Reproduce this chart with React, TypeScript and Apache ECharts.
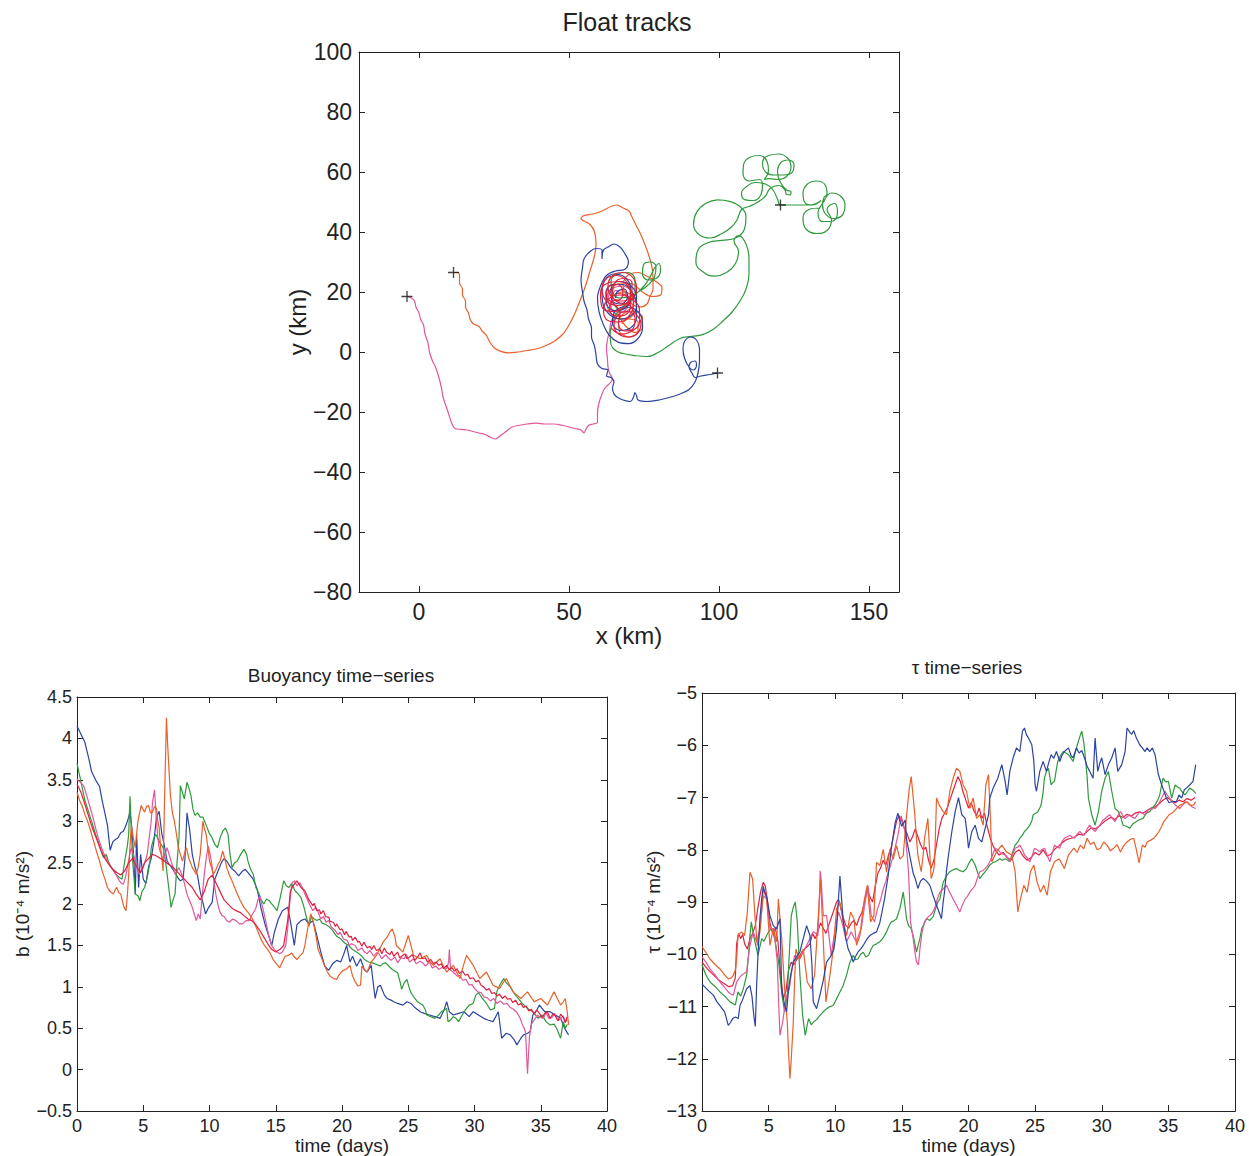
import React, { useEffect, useRef } from "react";
import * as echarts from "echarts";

const W = 1249;
const H = 1156;
const FONT = "'Liberation Sans', Arial, Helvetica, sans-serif";
const INK = "#222222";

const C_BLUE = "#2c44a0";
const C_GREEN = "#2f9a3c";
const C_ORANGE = "#e8602a";
const C_PINK = "#e0579a";
const C_RED = "#e0203f";

// ---------- Float tracks (x km, y km) ----------
const trackXTicks = [0, 50, 100, 150];
const trackStarts = [[-4, 18.5], [11.5, 26.5], [99.5, -7], [120.5, 49]];

const trackPink = [[-4,18.5],[-2.5,18],[-1.5,17],[-1,15],[0,13],[0.5,11],[1.5,9],[2,6],[3,3],[3.5,0],[4.5,-3],[5.5,-5],[6.5,-8],[7.5,-12],[8,-15],[9,-18],[10,-21],[11,-24],[12,-25.5],[14,-25.8],[16,-26],[18,-26.5],[20,-27],[22,-27.5],[24,-28.5],[25.5,-29],[27,-28],[29,-26.5],[31,-25],[33,-24.5],[36,-24],[39,-23.7],[42,-24],[45,-24],[48,-24.5],[50,-25],[52,-25.5],[54,-26],[55,-27],[55.5,-26],[56.5,-24.5],[58,-24],[59.5,-23.5],[59.5,-22],[59.5,-20],[60,-17],[61,-14],[62,-12],[63,-11],[64,-10],[64.5,-9],[63.5,-7],[63,-5],[62.8,-2],[62.5,1],[62.8,4],[63.5,7],[64,10],[66,13],[69,13.5],[71.5,16],[71,20],[68,22],[64.5,21],[63,17.5],[64.5,14],[68,13.5],[70,16.5],[69,20],[65.5,20.5],[64,17]];

const trackOrange = [[11.5,26.5],[13,26.5],[13.5,25],[13.5,23],[14.5,21],[14.5,19],[15.5,17],[15.5,15],[16.5,13],[17,11],[18,9.5],[20,8.5],[21,7],[22.5,5.5],[23.5,3.5],[25,1.5],[27,0.3],[30,-0.3],[33,0],[36,0.5],[39,1],[42,2],[45,3.5],[48,6],[50,9],[52,13],[54,18],[55.5,22],[57,27],[58.5,32],[59,36],[58.5,40],[57,42.5],[54,44.5],[55,45.5],[58,46],[61,47],[64,48.5],[66,49],[68,48],[70,47],[71,45],[72.5,42],[74,39],[76,34],[77.5,29],[78,25],[78,21],[77,18.5],[76,16],[73.5,15],[71,16],[69,19],[68,22.5],[69.5,25.5],[73,26.5],[76.5,25],[79,23.5],[81,21.5],[80.5,19],[77.5,18.5],[74.5,20],[71.5,22.5],[67.5,23],[64,21],[62.5,17.5],[63.5,13.5],[67,11],[70.5,11.5],[72.5,14.5],[71.5,18.5],[68,20],[64.5,18.5],[64,14.5],[66.5,12],[69,8.5],[72,6.5],[74.5,8],[74.5,11.5],[72,13.5],[68.5,13],[66.5,10],[67,6.5],[70,5],[73,6.5],[73,10],[70,11],[67.5,9.5]];

const trackBlue = [[99.5,-7],[97,-7.5],[94,-8],[92,-8.5],[91,-7],[90,-5],[90.5,-3.5],[92,-3],[92.5,-4.5],[91.5,-6],[90,-5],[88.5,-2],[88,1],[88.5,3.5],[90.5,5],[92.5,4],[93.5,1],[93.5,-3],[93,-7],[92,-10],[90,-12.5],[87,-14],[84,-15],[80,-16],[76,-16.5],[73,-16],[72.5,-14.5],[72,-13.5],[71.5,-15],[70.5,-16.5],[68,-16],[66,-15],[65,-14],[64.5,-12],[65,-10],[64,-8.5],[62.5,-8],[63,-6],[61,-5.5],[59.5,-4],[59,-1],[58.5,2],[57.5,5],[57.5,8],[56.5,11],[56,14],[55,17],[54.5,20],[54,24],[54.5,28],[55,31],[57,33.5],[59,34.5],[61,34],[61,31],[61.5,34],[63,35],[65,36],[67,35],[68.5,33],[69.8,30.1],[68.5,27.5],[65.5,27],[62.5,25.5],[60.5,22],[59.5,18],[60,13.5],[61.5,9],[63.5,5.5],[66.5,3.2],[70,2.8],[73,4.5],[74.5,8],[74,12],[71.5,14.5],[68,15],[65,13],[64.5,9.5],[67,7.2],[70.5,8],[72.5,11.5],[72.5,16],[71,20],[68,22.5],[64.5,22.5],[62.3,20],[62.5,16],[65,13.8],[68.5,14.5],[70.5,17.5],[70.5,21.5],[68.5,25],[65,26],[62,24],[61,20],[61.5,15.5],[63.5,12.5],[67,11],[70.5,12],[72.5,15],[72.5,19],[70,22.5],[66.5,23.5],[64,21],[64.5,17],[67.5,16],[69.5,18.5],[68.5,21],[66,20],[65.5,18]];

const trackGreen = [[133.5,48],[130,47.5],[128,44.5],[129,41],[132.5,39.5],[136,40.5],[137.5,44],[136,47.5],[138.5,49.5],[139.5,46.5],[137.5,43.5],[134.5,43.5],[133,46.5],[134.5,49.5],[137.5,53],[140.5,52],[142,49],[141,45.5],[138,44.5],[135.5,46],[134.5,49],[135,51.5],[136,52.5],[135.5,55.5],[132.5,57],[129.5,56],[128,53],[128.5,50],[131,49],[134,50.5],[130.5,49],[127,49],[123.5,49],[120.5,49],[119.5,51],[118,54],[115.5,56],[112,56.5],[109,55],[107.5,53],[108.5,50.8],[111.5,50.5],[114,52.5],[114.5,55.5],[113.5,57.5],[110,57],[108,59.5],[108.2,62.5],[110.5,65],[113.5,65.5],[116,63.5],[116.5,60.5],[115,57.5],[117,57.8],[119.5,57.5],[122.5,58.5],[124,61.5],[123,64.5],[120,66],[116.5,65.5],[114.5,63],[115.5,60],[118.5,59],[121.5,59],[124.5,60],[125,62.5],[123,64],[120.5,63],[119.5,60],[120.5,56.5],[122.5,54],[124,53.5],[123.8,52.4],[122.5,52.5],[122,54],[120,55.5],[117,54.5],[115.5,52],[113,50],[110,48.5],[107.5,47.5],[106,44],[104,41.5],[101,39.5],[97,38],[93.5,39],[91.5,42.5],[92.5,46.5],[95.5,49.5],[99.5,50.7],[103.5,50.2],[107,48.5],[109,45],[108.5,41],[105.5,38],[101,37.2],[96.5,36.5],[93,34],[92.3,30],[94.5,26.8],[98.5,25.3],[102.5,26.5],[105.5,29.5],[106.5,33.5],[105,37],[106.5,38.8],[109,36],[110,31],[110,26],[109,21],[107,17],[104.5,13.5],[101.5,10.5],[98,7.5],[94.5,5.8],[91,5.2],[87,4.5],[83,2],[80,0],[76,-1.5],[72,-1.2],[68,-0.5],[65.5,0.5],[64,2.5],[63.7,6],[64.5,9.5],[66,13],[69,16],[72,19],[75,22],[77,25],[78.5,28],[80,29.5],[80.5,27],[79,24.5],[76.5,24],[74.5,26],[74.8,29],[77,30],[79,28.5],[78.5,25],[76,22],[73,20],[70,18.5],[67,18],[64.5,20],[64,23.5],[66,26],[69.5,26.5],[72,24],[72,20],[70,16],[67,14],[65,16]];

const trackRed = [[64,8],[67.5,6],[71,7],[73.5,10],[73.5,14],[71,17.5],[67,19],[63,17.5],[61.5,14],[63,10.5],[66.5,10],[70,12],[71.5,16],[70.5,20.5],[67,23.5],[63,23],[60.5,19.5],[61,15],[64.5,13.5],[68.5,15],[70.5,18.5],[69.5,23],[66,25.5],[62.5,24.5],[61,21],[62.5,17],[66.5,15.5],[70,17],[72.5,20.5],[71.5,24.5],[68,26.5],[64.5,25.5],[63,22],[64.5,18],[68,17],[71,19.5],[71,23],[68,24.5],[65,22.5],[64.5,19],[66.5,16.5],[69.5,16],[72,13],[74,9.5],[73,6.5],[70,5],[66.5,6],[65,9],[66.5,12.5],[69.5,13.5],[72,11.5],[71.5,8],[68.5,7],[66.5,9.5],[67,13],[65,16],[62.5,18.5],[63,21.5],[66,22.5],[68,20],[67,17.5],[64.5,17],[63.5,14],[66,12],[69,12.5],[70.5,15.5],[69,19],[66,19.5]];

// ---------- Buoyancy time-series (days, 1e-4 m/s^2) ----------
const bBlue = [[0,4.15],[0.3,4.05],[0.6,3.95],[0.9,3.75],[1.1,3.6],[1.4,3.5],[1.7,3.42],[1.9,3.25],[2.1,3.1],[2.3,2.95],[2.5,2.65],[2.7,2.75],[2.9,2.78],[3.1,2.8],[3.3,2.86],[3.5,2.88],[3.7,2.95],[3.9,3.05],[4.0,3.12],[4.15,2.9],[4.3,2.5],[4.4,2.12],[4.5,2.85],[4.65,2.2],[4.8,2.6],[5.0,2.3],[5.2,2.25],[5.4,2.45],[5.6,2.55],[5.8,2.75],[6.0,3.05],[6.2,3.12],[6.4,2.85],[6.6,2.7],[6.8,2.52],[7.1,2.45],[7.4,2.38],[7.6,2.32],[7.8,2.28],[8.0,2.3],[8.15,2.55],[8.3,3.1],[8.5,2.9],[8.7,2.6],[8.9,2.45],[9.1,2.34],[9.3,2.15],[9.5,2.02],[9.7,1.88],[9.9,1.95],[10.2,2.02],[10.4,2.3],[10.6,2.38],[10.9,2.5],[11.1,2.55],[11.3,2.52],[11.6,2.44],[11.9,2.4],[12.2,2.34],[12.5,2.4],[12.7,2.42],[13.0,2.36],[13.3,2.3],[13.6,2.18],[13.9,1.94],[14.2,1.75],[14.5,1.6],[14.7,1.5],[14.9,1.66],[15.2,1.82],[15.5,1.92],[15.9,1.96],[16.1,1.8],[16.3,1.6],[16.4,1.5],[16.6,1.75],[16.9,1.8],[17.2,1.82],[17.5,1.76],[17.8,1.8],[18.1,1.62],[18.4,1.42],[18.7,1.25],[19.0,1.2],[19.3,1.28],[19.6,1.32],[19.9,1.3],[20.1,1.38],[20.35,1.5],[20.6,1.3],[20.8,1.37],[21.1,1.25],[21.4,1.34],[21.7,1.2],[21.9,1.18],[22.2,1.26],[22.5,0.86],[22.7,1.0],[22.9,1.02],[23.2,0.9],[23.4,0.86],[23.7,0.84],[23.9,0.82],[24.2,0.8],[24.6,0.78],[24.9,0.82],[25.2,0.8],[25.5,0.75],[25.9,0.7],[26.2,0.68],[26.6,0.66],[27.0,0.64],[27.4,0.62],[27.7,0.72],[27.9,0.82],[28.1,0.7],[28.4,0.66],[28.8,0.68],[29.2,0.7],[29.6,0.64],[29.9,0.7],[30.3,0.66],[30.7,0.62],[31.0,0.6],[31.4,0.58],[31.8,0.7],[32.05,0.38],[32.4,0.44],[32.7,0.42],[33.0,0.36],[33.2,0.3],[33.5,0.38],[33.7,0.42],[34.0,0.44],[34.2,0.46],[34.4,0.66],[34.7,0.72],[34.9,0.78],[35.3,0.7],[35.7,0.7],[36.1,0.66],[36.5,0.62],[36.8,0.5],[37.1,0.42]];

const bGreen = [[0,3.7],[0.2,3.55],[0.4,3.4],[0.6,3.25],[0.8,3.15],[1.0,3.05],[1.2,2.95],[1.4,2.84],[1.6,2.75],[1.8,2.65],[2.0,2.56],[2.2,2.6],[2.4,2.5],[2.6,2.44],[2.8,2.4],[3.0,2.35],[3.2,2.32],[3.4,2.3],[3.6,2.52],[3.8,2.7],[3.9,2.84],[4.0,3.3],[4.1,2.9],[4.2,2.52],[4.4,2.12],[4.6,2.1],[4.75,2.04],[4.9,2.15],[5.1,2.2],[5.3,2.32],[5.5,2.5],[5.6,2.68],[5.8,2.8],[5.95,2.84],[6.2,2.76],[6.5,2.68],[6.7,2.5],[6.8,2.36],[7.0,2.1],[7.1,1.96],[7.25,2.05],[7.4,2.12],[7.55,2.5],[7.7,2.8],[7.8,3.43],[7.95,3.35],[8.1,3.27],[8.3,3.47],[8.45,3.4],[8.6,3.31],[8.75,3.15],[8.9,3.07],[9.1,3.1],[9.3,3.05],[9.5,3.05],[9.75,2.95],[10.0,2.85],[10.2,2.8],[10.4,2.72],[10.6,2.68],[10.8,2.8],[11.0,2.88],[11.2,2.92],[11.4,2.84],[11.55,2.6],[11.7,2.44],[11.9,2.5],[12.1,2.52],[12.35,2.6],[12.6,2.66],[12.8,2.6],[12.9,2.52],[13.1,2.42],[13.3,2.36],[13.5,2.2],[13.7,2.14],[13.9,2.05],[14.1,2.0],[14.3,2.06],[14.5,2.04],[14.8,1.98],[15.1,1.92],[15.3,2.05],[15.6,2.28],[15.8,2.22],[16.0,2.2],[16.2,2.25],[16.45,2.16],[16.7,2.12],[16.9,2.08],[17.1,1.98],[17.3,1.85],[17.5,1.73],[17.7,1.85],[17.9,1.82],[18.1,1.8],[18.3,1.82],[18.5,1.77],[18.8,1.75],[19.0,1.73],[19.3,1.68],[19.6,1.61],[19.9,1.58],[20.2,1.53],[20.5,1.5],[20.8,1.45],[21.0,1.43],[21.2,1.41],[21.5,1.37],[21.7,1.33],[22.0,1.3],[22.3,1.29],[22.6,1.27],[22.9,1.25],[23.1,1.28],[23.3,1.29],[23.6,1.24],[23.8,1.21],[24.0,1.19],[24.2,1.17],[24.4,1.05],[24.5,0.97],[24.7,1.05],[24.9,1.09],[25.05,1.0],[25.2,0.93],[25.5,0.86],[25.7,0.82],[25.9,0.8],[26.1,0.78],[26.3,0.72],[26.4,0.66],[26.7,0.64],[27.0,0.62],[27.3,0.66],[27.5,0.7],[27.7,0.72],[27.9,0.74],[28.0,0.58],[28.2,0.6],[28.4,0.64],[28.6,0.62],[28.8,0.58],[29.0,0.64],[29.3,0.72],[29.6,0.78],[29.9,0.8],[30.1,0.9],[30.3,0.93],[30.6,0.86],[30.9,0.8],[31.2,0.72],[31.5,0.74],[31.7,0.95],[31.9,1.02],[32.2,1.1],[32.4,1.05],[32.7,1.0],[33.0,0.92],[33.3,0.86],[33.6,0.8],[34.0,0.74],[34.4,0.7],[34.8,0.62],[35.1,0.66],[35.4,0.58],[35.7,0.54],[36.0,0.55],[36.2,0.5],[36.4,0.42],[36.5,0.38],[36.7,0.58],[36.85,0.5],[37.0,0.55]];

const bOrange = [[0,3.35],[0.2,3.25],[0.4,3.18],[0.6,3.08],[0.8,3.0],[1.0,2.9],[1.25,2.76],[1.5,2.62],[1.7,2.52],[1.9,2.4],[2.15,2.28],[2.3,2.2],[2.45,2.16],[2.6,2.14],[2.75,2.12],[2.9,2.18],[3.0,2.2],[3.15,2.14],[3.3,2.12],[3.45,2.02],[3.55,1.96],[3.7,1.92],[3.8,2.1],[3.9,2.36],[4.0,2.7],[4.1,2.95],[4.25,2.8],[4.4,2.68],[4.5,2.85],[4.6,3.0],[4.75,3.12],[4.85,3.19],[5.0,3.14],[5.1,3.11],[5.25,3.18],[5.4,3.19],[5.55,3.1],[5.7,3.11],[5.85,3.18],[6.0,3.15],[6.1,3.0],[6.2,2.92],[6.3,2.7],[6.4,2.56],[6.5,2.4],[6.6,3.2],[6.7,3.9],[6.75,4.25],[6.85,3.9],[6.95,3.6],[7.05,3.31],[7.2,3.1],[7.35,3.0],[7.5,2.85],[7.65,2.68],[7.8,2.6],[7.95,2.52],[8.1,2.6],[8.25,2.68],[8.45,2.55],[8.7,2.44],[8.85,2.4],[9.0,2.36],[9.15,2.45],[9.3,2.6],[9.4,2.8],[9.5,3.0],[9.6,2.92],[9.75,2.84],[9.9,2.65],[10.0,2.52],[10.15,2.44],[10.3,2.36],[10.5,2.42],[10.65,2.48],[10.8,2.52],[10.9,2.58],[11.0,2.64],[11.15,2.55],[11.3,2.44],[11.5,2.35],[11.7,2.28],[11.9,2.2],[12.1,2.12],[12.3,2.05],[12.6,1.96],[12.8,1.92],[13.0,1.88],[13.25,1.82],[13.5,1.73],[13.7,1.65],[13.9,1.57],[14.15,1.5],[14.4,1.45],[14.6,1.4],[14.8,1.33],[15.05,1.28],[15.3,1.23],[15.5,1.3],[15.7,1.37],[15.95,1.38],[16.2,1.41],[16.4,1.36],[16.6,1.33],[16.85,1.38],[17.05,1.41],[17.2,1.5],[17.35,1.65],[17.5,1.78],[17.65,1.88],[17.8,1.8],[17.9,1.73],[18.05,1.6],[18.2,1.45],[18.45,1.35],[18.7,1.25],[18.9,1.18],[19.1,1.13],[19.35,1.1],[19.6,1.09],[19.75,1.14],[19.9,1.17],[20.1,1.2],[20.3,1.21],[20.6,1.26],[20.8,1.13],[21.0,1.06],[21.2,1.01],[21.4,1.02],[21.5,1.25],[21.75,1.2],[21.9,1.18],[22.2,1.3],[22.6,1.38],[22.85,1.46],[23.1,1.54],[23.4,1.6],[23.6,1.66],[23.8,1.7],[24.0,1.6],[24.1,1.5],[24.35,1.46],[24.6,1.42],[24.8,1.52],[25.0,1.62],[25.2,1.5],[25.4,1.38],[25.65,1.36],[25.9,1.34],[26.15,1.36],[26.4,1.38],[26.65,1.3],[26.9,1.26],[27.15,1.3],[27.4,1.34],[27.65,1.25],[27.9,1.18],[28.15,1.22],[28.4,1.26],[28.65,1.18],[28.9,1.1],[29.15,1.25],[29.4,1.38],[29.65,1.32],[29.9,1.26],[30.15,1.18],[30.4,1.1],[30.65,1.14],[30.9,1.18],[31.15,1.1],[31.4,1.02],[31.65,1.0],[31.9,0.98],[32.15,1.05],[32.4,1.1],[32.65,1.02],[32.9,0.94],[33.2,0.9],[33.5,0.86],[33.75,0.9],[34.0,0.94],[34.25,0.88],[34.5,0.82],[34.75,0.84],[35.0,0.86],[35.25,0.82],[35.5,0.78],[35.75,0.86],[36.0,0.94],[36.25,0.86],[36.5,0.78],[36.7,0.82],[36.85,0.86],[37.0,0.7],[37.1,0.54]];

const bPink = [[0,3.51],[0.25,3.47],[0.5,3.43],[0.75,3.3],[0.95,3.19],[1.2,3.05],[1.4,2.92],[1.6,2.8],[1.85,2.68],[2.05,2.6],[2.3,2.52],[2.55,2.45],[2.75,2.4],[3.0,2.34],[3.2,2.28],[3.35,2.25],[3.5,2.24],[3.65,2.32],[3.8,2.44],[3.95,2.58],[4.1,2.68],[4.25,2.6],[4.4,2.52],[4.55,2.42],[4.7,2.36],[4.85,2.4],[5.0,2.44],[5.15,2.52],[5.3,2.6],[5.45,2.8],[5.6,3.0],[5.7,3.23],[5.85,3.38],[6.0,3.0],[6.1,2.8],[6.2,2.68],[6.35,2.6],[6.5,2.52],[6.65,2.6],[6.8,2.68],[6.95,2.6],[7.1,2.52],[7.25,2.44],[7.4,2.36],[7.55,2.4],[7.7,2.44],[7.85,2.38],[8.0,2.32],[8.15,2.22],[8.3,2.12],[8.5,2.04],[8.7,1.96],[8.85,1.88],[9.0,1.8],[9.15,1.88],[9.3,1.82],[9.45,2.1],[9.6,2.35],[9.75,2.55],[9.9,2.7],[10.05,2.6],[10.2,2.45],[10.35,2.25],[10.5,2.1],[10.65,1.98],[10.8,1.9],[10.95,1.86],[11.1,1.85],[11.3,1.8],[11.5,1.78],[11.75,1.82],[12.0,1.8],[12.25,1.76],[12.5,1.76],[12.75,1.8],[13.0,1.8],[13.25,1.88],[13.5,1.95],[13.65,2.05],[13.8,2.1],[13.95,2.0],[14.1,1.9],[14.3,1.75],[14.5,1.6],[14.7,1.5],[14.9,1.45],[15.1,1.42],[15.3,1.4],[15.5,1.42],[15.75,1.5],[15.9,1.7],[16.05,2.0],[16.2,2.25],[16.4,2.28],[16.6,2.22],[16.8,2.26],[17.0,2.2],[17.2,2.12],[17.4,2.05],[17.6,1.98],[17.8,1.92],[18.0,1.96],[18.2,1.9],[18.4,1.82],[18.6,1.85],[18.8,1.78],[19.0,1.8],[19.2,1.72],[19.5,1.68],[19.7,1.63],[19.85,1.66],[20.1,1.58],[20.4,1.56],[20.55,1.5],[20.7,1.52],[21.0,1.5],[21.2,1.44],[21.5,1.47],[21.7,1.42],[21.9,1.4],[22.1,1.44],[22.4,1.37],[22.6,1.41],[22.8,1.4],[23.0,1.34],[23.3,1.39],[23.5,1.35],[23.7,1.32],[24.0,1.36],[24.2,1.29],[24.45,1.35],[24.7,1.34],[24.85,1.39],[25.1,1.3],[25.4,1.34],[25.6,1.28],[25.9,1.31],[26.1,1.29],[26.3,1.25],[26.6,1.3],[26.8,1.23],[27.1,1.25],[27.3,1.21],[27.6,1.24],[27.9,1.22],[28.05,1.3],[28.1,1.45],[28.2,1.2],[28.45,1.17],[28.7,1.13],[28.9,1.14],[29.1,1.08],[29.35,1.09],[29.6,1.02],[29.8,1.03],[30.0,0.98],[30.25,0.94],[30.5,0.93],[30.7,0.88],[30.95,0.87],[31.2,0.83],[31.45,0.86],[31.7,0.8],[31.95,0.83],[32.2,0.79],[32.45,0.8],[32.7,0.75],[32.95,0.73],[33.2,0.69],[33.45,0.62],[33.6,0.55],[33.75,0.5],[33.85,0.45],[34.0,-0.05],[34.15,0.4],[34.3,0.55],[34.5,0.6],[34.75,0.66],[34.95,0.63],[35.2,0.62],[35.4,0.69],[35.6,0.62],[35.85,0.63],[36.05,0.68],[36.3,0.59],[36.5,0.62],[36.7,0.65],[36.85,0.57],[37.0,0.6]];

const bRed = [[0,3.45],[0.3,3.35],[0.6,3.2],[0.9,3.05],[1.2,2.9],[1.5,2.78],[1.8,2.65],[2.1,2.55],[2.4,2.48],[2.7,2.42],[3.0,2.38],[3.3,2.35],[3.6,2.4],[3.9,2.5],[4.2,2.55],[4.5,2.45],[4.8,2.38],[5.1,2.5],[5.4,2.55],[5.7,2.6],[6.0,2.58],[6.3,2.55],[6.6,2.52],[6.9,2.48],[7.2,2.45],[7.5,2.4],[7.8,2.35],[8.1,2.3],[8.4,2.25],[8.7,2.2],[9.0,2.12],[9.3,2.05],[9.6,2.15],[9.9,2.3],[10.2,2.35],[10.5,2.25],[10.8,2.15],[11.1,2.05],[11.4,2.0],[11.7,1.95],[12.0,1.92],[12.3,1.9],[12.6,1.86],[12.9,1.82],[13.2,1.8],[13.5,1.75],[13.8,1.68],[14.1,1.6],[14.4,1.52],[14.7,1.45],[15.0,1.42],[15.3,1.45],[15.6,1.5],[15.9,1.8],[16.1,2.15],[16.3,2.22],[16.6,2.28],[16.9,2.2],[17.2,2.16],[17.5,2.05],[17.8,1.98],[17.9,2.01],[18.1,1.92],[18.3,1.93],[18.4,1.88],[18.6,1.92],[18.75,1.85],[19.0,1.84],[19.1,1.79],[19.35,1.78],[19.5,1.73],[19.6,1.76],[19.85,1.69],[20.0,1.7],[20.2,1.63],[20.3,1.67],[20.55,1.6],[20.7,1.61],[20.8,1.56],[21.0,1.6],[21.2,1.54],[21.3,1.55],[21.5,1.49],[21.65,1.54],[21.9,1.47],[22.1,1.49],[22.25,1.45],[22.4,1.5],[22.6,1.44],[22.85,1.46],[23.0,1.4],[23.2,1.47],[23.35,1.42],[23.6,1.39],[23.75,1.43],[23.9,1.37],[24.2,1.42],[24.35,1.35],[24.5,1.37],[24.75,1.4],[24.9,1.34],[25.1,1.36],[25.3,1.39],[25.5,1.32],[25.7,1.36],[25.9,1.41],[26.05,1.34],[26.3,1.35],[26.45,1.3],[26.7,1.33],[26.9,1.28],[27.1,1.3],[27.3,1.26],[27.5,1.28],[27.65,1.22],[27.9,1.26],[28.1,1.21],[28.3,1.23],[28.5,1.19],[28.7,1.22],[28.85,1.16],[29.1,1.19],[29.3,1.14],[29.5,1.15],[29.65,1.1],[29.9,1.11],[30.1,1.06],[30.3,1.08],[30.5,1.02],[30.7,1.0],[30.9,0.96],[31.1,0.98],[31.3,0.92],[31.5,0.93],[31.7,0.89],[31.9,0.91],[32.1,0.86],[32.3,0.89],[32.5,0.85],[32.7,0.86],[32.9,0.81],[33.1,0.84],[33.3,0.78],[33.5,0.8],[33.7,0.75],[33.9,0.77],[34.1,0.71],[34.3,0.73],[34.5,0.67],[34.7,0.72],[34.9,0.68],[35.1,0.63],[35.3,0.68],[35.5,0.7],[35.7,0.62],[35.9,0.67],[36.1,0.65],[36.3,0.59],[36.5,0.67],[36.7,0.63],[36.85,0.57],[37.0,0.64]];

// ---------- tau time-series (days, 1e-4 m/s^2) ----------
const tBlue = [[0,-10.57],[0.5,-10.7],[0.85,-10.78],[1.1,-10.9],[1.4,-11.0],[1.7,-11.1],[1.97,-11.36],[2.15,-11.3],[2.3,-11.23],[2.5,-11.2],[2.72,-11.23],[2.85,-10.98],[3.0,-10.9],[3.2,-10.76],[3.35,-10.66],[3.6,-10.6],[3.75,-10.8],[3.9,-11.2],[4.0,-11.38],[4.1,-10.6],[4.2,-10.02],[4.35,-9.3],[4.48,-8.94],[4.6,-8.7],[4.7,-8.8],[4.85,-8.9],[5.1,-9.26],[5.35,-9.45],[5.6,-9.51],[5.85,-9.32],[5.98,-10.66],[6.2,-10.97],[6.35,-11.1],[6.5,-10.66],[6.65,-10.4],[6.85,-10.15],[7.1,-10.05],[7.35,-9.95],[7.6,-9.7],[7.85,-9.45],[8.1,-9.64],[8.25,-10.2],[8.35,-10.91],[8.6,-11.04],[8.85,-10.78],[9.1,-10.5],[9.35,-10.15],[9.7,-10.02],[9.9,-9.9],[10.1,-9.51],[10.35,-8.5],[10.6,-9.38],[10.8,-9.7],[10.97,-9.9],[11.15,-10.0],[11.35,-10.15],[11.5,-10.05],[11.7,-9.96],[11.9,-9.9],[12.1,-9.83],[12.35,-9.72],[12.6,-9.64],[12.85,-9.6],[13.1,-9.57],[13.35,-9.39],[13.5,-9.2],[13.7,-8.94],[13.97,-8.5],[14.2,-7.99],[14.5,-7.48],[14.7,-7.3],[14.85,-7.45],[15.0,-7.55],[15.25,-7.43],[15.35,-7.8],[15.6,-8.12],[15.85,-8.45],[16.0,-8.55],[16.2,-8.74],[16.4,-8.6],[16.6,-8.55],[16.85,-8.6],[17.1,-8.68],[17.35,-8.88],[17.6,-9.06],[17.8,-9.2],[17.97,-9.32],[18.1,-9.0],[18.2,-8.81],[18.35,-8.4],[18.5,-8.1],[18.75,-7.65],[19.0,-7.27],[19.25,-7.0],[19.5,-7.33],[19.75,-7.4],[19.9,-7.7],[20.0,-7.97],[20.25,-7.65],[20.5,-7.53],[20.75,-7.78],[21.0,-7.85],[21.25,-7.59],[21.5,-7.33],[21.6,-7.01],[21.85,-6.82],[22.2,-6.63],[22.5,-6.37],[22.75,-6.69],[22.9,-6.95],[23.1,-6.5],[23.35,-6.24],[23.6,-6.05],[23.85,-6.12],[24.05,-5.73],[24.2,-5.67],[24.35,-5.8],[24.5,-5.86],[24.75,-5.99],[24.9,-6.3],[25.0,-6.76],[25.1,-6.88],[25.35,-6.5],[25.6,-6.31],[25.85,-6.5],[26.0,-6.35],[26.2,-6.18],[26.4,-6.25],[26.6,-6.12],[26.85,-6.31],[27.0,-6.2],[27.2,-6.12],[27.5,-6.05],[27.7,-6.2],[27.85,-6.24],[28.1,-6.05],[28.3,-6.15],[28.5,-6.1],[28.7,-6.24],[28.9,-6.4],[29.1,-6.5],[29.35,-6.63],[29.5,-5.86],[29.7,-6.5],[29.85,-6.35],[30.0,-6.24],[30.25,-6.56],[30.5,-6.37],[30.75,-6.24],[31.0,-6.05],[31.2,-6.5],[31.5,-6.37],[31.75,-6.12],[31.9,-5.67],[32.1,-5.75],[32.25,-5.79],[32.4,-5.72],[32.6,-5.86],[32.85,-5.99],[33.05,-6.05],[33.25,-6.12],[33.4,-6.05],[33.6,-6.12],[33.8,-6.05],[34.0,-6.18],[34.25,-6.56],[34.5,-6.76],[34.7,-6.9],[34.85,-7.01],[35.05,-7.1],[35.25,-7.08],[35.6,-7.08],[35.8,-6.95],[36.0,-7.01],[36.2,-6.85],[36.35,-6.82],[36.6,-6.76],[36.85,-6.69],[37.05,-6.37]];

const tGreen = [[0,-10.2],[0.3,-10.4],[0.6,-10.53],[1.0,-10.62],[1.35,-10.72],[1.7,-10.8],[2.1,-10.91],[2.5,-10.97],[2.7,-10.72],[2.9,-10.8],[3.1,-10.66],[3.35,-10.4],[3.5,-10.0],[3.6,-9.64],[3.7,-9.38],[3.85,-9.6],[3.97,-9.76],[4.2,-10.02],[4.35,-9.85],[4.48,-9.7],[4.65,-9.75],[4.85,-9.64],[5.05,-9.55],[5.2,-9.51],[5.35,-9.6],[5.5,-9.76],[5.75,-10.15],[6.0,-10.78],[6.2,-11.1],[6.4,-10.78],[6.55,-10.0],[6.7,-9.26],[6.85,-9.1],[7.0,-9.0],[7.15,-9.38],[7.35,-10.4],[7.55,-11.17],[7.75,-11.55],[7.9,-11.35],[8.0,-11.23],[8.2,-11.35],[8.35,-11.3],[8.6,-11.25],[8.85,-11.17],[9.1,-11.1],[9.35,-11.04],[9.6,-11.0],[9.85,-10.98],[10.1,-10.85],[10.35,-10.72],[10.6,-10.59],[10.85,-10.4],[11.1,-10.15],[11.35,-10.02],[11.5,-10.1],[11.7,-10.09],[11.9,-10.0],[12.1,-9.96],[12.3,-10.05],[12.5,-10.02],[12.7,-9.9],[12.85,-9.83],[13.1,-9.8],[13.35,-9.76],[13.6,-9.68],[13.85,-9.57],[14.05,-9.45],[14.2,-9.38],[14.4,-9.36],[14.6,-9.32],[14.75,-9.2],[14.85,-9.13],[15.1,-8.81],[15.25,-9.1],[15.35,-9.32],[15.5,-9.45],[15.7,-9.51],[15.9,-9.7],[16.1,-9.96],[16.2,-9.85],[16.35,-9.7],[16.5,-9.5],[16.7,-9.4],[16.85,-9.32],[17.1,-9.35],[17.35,-9.28],[17.5,-9.15],[17.7,-9.0],[17.85,-8.94],[18.1,-8.62],[18.35,-8.5],[18.6,-8.42],[18.85,-8.38],[19.1,-8.36],[19.35,-8.4],[19.6,-8.42],[19.85,-8.36],[20.05,-8.25],[20.25,-8.17],[20.5,-8.29],[20.7,-8.45],[20.85,-8.55],[21.05,-8.48],[21.25,-8.42],[21.45,-8.35],[21.6,-8.29],[21.8,-8.25],[22.0,-8.23],[22.2,-8.2],[22.35,-8.17],[22.55,-8.2],[22.75,-8.17],[22.95,-8.2],[23.1,-8.23],[23.3,-8.05],[23.5,-7.91],[23.7,-7.85],[23.85,-7.78],[24.05,-7.72],[24.2,-7.65],[24.4,-7.6],[24.6,-7.53],[24.75,-7.45],[24.85,-7.33],[25.05,-7.3],[25.2,-7.27],[25.35,-7.2],[25.45,-7.14],[25.6,-6.9],[25.7,-6.63],[25.85,-6.5],[26.0,-6.44],[26.1,-6.6],[26.2,-6.76],[26.3,-6.72],[26.45,-6.69],[26.6,-6.45],[26.7,-6.31],[26.9,-6.2],[27.1,-6.12],[27.3,-6.15],[27.5,-6.18],[27.7,-6.25],[27.85,-6.31],[28.05,-6.1],[28.25,-5.92],[28.4,-5.8],[28.5,-5.73],[28.65,-5.95],[28.75,-6.18],[28.9,-6.6],[29.0,-7.01],[29.25,-7.33],[29.5,-7.53],[29.75,-7.27],[30.0,-6.88],[30.25,-6.63],[30.5,-6.5],[30.75,-6.88],[31.0,-7.21],[31.25,-7.27],[31.45,-7.4],[31.6,-7.53],[31.85,-7.55],[32.1,-7.59],[32.35,-7.5],[32.6,-7.46],[32.85,-7.42],[33.1,-7.4],[33.35,-7.3],[33.6,-7.27],[33.8,-7.2],[34.0,-7.14],[34.2,-7.05],[34.35,-6.95],[34.5,-6.75],[34.6,-6.63],[34.8,-6.7],[35.0,-6.69],[35.25,-7.01],[35.5,-6.76],[35.7,-6.8],[35.85,-6.82],[36.05,-6.9],[36.25,-6.95],[36.45,-6.88],[36.6,-6.82],[36.85,-6.86],[37.05,-6.92]];

const tOrange = [[0,-9.85],[0.3,-9.97],[0.6,-10.09],[1.0,-10.2],[1.35,-10.28],[1.65,-10.38],[1.97,-10.47],[2.2,-10.45],[2.35,-10.4],[2.5,-10.3],[2.6,-10.09],[2.7,-9.64],[2.85,-9.6],[2.97,-9.57],[3.2,-9.64],[3.4,-9.2],[3.6,-8.43],[3.8,-8.56],[3.97,-9.26],[4.15,-9.83],[4.35,-9.57],[4.6,-8.75],[4.85,-8.94],[5.1,-9.83],[5.35,-9.51],[5.6,-9.76],[5.73,-8.94],[5.98,-9.7],[6.2,-10.66],[6.4,-11.3],[6.5,-11.9],[6.6,-12.38],[6.7,-12.0],[6.85,-11.3],[6.95,-10.5],[7.05,-9.9],[7.3,-10.09],[7.6,-9.9],[7.9,-10.53],[8.2,-10.66],[8.45,-10.4],[8.7,-9.38],[8.9,-8.56],[9.15,-10.02],[9.3,-10.91],[9.6,-10.4],[9.85,-9.9],[10.1,-9.13],[10.35,-9.0],[10.6,-9.38],[10.85,-9.64],[11.15,-9.19],[11.4,-9.32],[11.6,-9.83],[11.85,-9.64],[12.15,-9.0],[12.4,-8.68],[12.65,-9.38],[12.9,-9.26],[13.1,-8.24],[13.35,-8.3],[13.6,-7.99],[13.85,-8.43],[14.1,-7.99],[14.35,-8.18],[14.6,-7.92],[14.85,-8.18],[15.1,-8.11],[15.35,-7.35],[15.55,-6.84],[15.7,-6.6],[15.85,-7.0],[15.97,-7.33],[16.1,-7.8],[16.2,-8.1],[16.35,-8.3],[16.45,-8.42],[16.6,-8.1],[16.7,-7.78],[16.85,-7.55],[16.95,-7.4],[17.1,-8.1],[17.2,-8.55],[17.35,-8.43],[17.45,-8.29],[17.6,-7.01],[17.8,-7.14],[18.1,-7.27],[18.35,-7.33],[18.6,-6.88],[18.85,-6.63],[19.1,-6.44],[19.35,-6.5],[19.6,-6.76],[19.85,-6.88],[20.1,-7.21],[20.35,-7.01],[20.6,-7.4],[20.85,-7.33],[21.1,-7.53],[21.3,-6.76],[21.5,-6.56],[21.65,-7.4],[21.75,-8.23],[22.1,-8.04],[22.5,-7.91],[22.85,-8.04],[23.25,-8.1],[23.5,-8.42],[23.7,-9.19],[23.9,-8.94],[24.15,-8.68],[24.4,-8.81],[24.65,-8.42],[24.9,-8.29],[25.15,-8.62],[25.4,-8.81],[25.65,-8.68],[25.9,-8.87],[26.15,-8.42],[26.45,-8.23],[26.8,-8.17],[27.2,-8.36],[27.5,-8.1],[27.9,-7.97],[28.15,-8.05],[28.4,-7.91],[28.65,-7.98],[28.9,-7.78],[29.15,-7.9],[29.4,-7.85],[29.65,-8.0],[29.9,-7.97],[30.15,-7.85],[30.4,-7.91],[30.65,-8.02],[30.9,-7.97],[31.15,-7.9],[31.4,-8.04],[31.65,-7.92],[31.9,-7.85],[32.15,-7.8],[32.4,-7.78],[32.6,-8.0],[32.8,-8.25],[33.05,-7.91],[33.25,-7.95],[33.4,-7.85],[33.65,-7.82],[33.9,-7.78],[34.1,-7.72],[34.3,-7.65],[34.5,-7.55],[34.65,-7.46],[34.85,-7.4],[35.05,-7.33],[35.25,-7.3],[35.4,-7.27],[35.65,-7.2],[35.9,-7.14],[36.15,-7.12],[36.4,-7.08],[36.65,-7.15],[36.9,-7.14],[37.05,-7.08]];

const tPink = [[0,-10.05],[0.3,-10.15],[0.6,-10.28],[1.0,-10.4],[1.35,-10.53],[1.65,-10.62],[1.97,-10.72],[2.15,-10.76],[2.35,-10.78],[2.6,-10.53],[2.8,-10.45],[2.97,-10.4],[3.2,-10.36],[3.35,-10.34],[3.5,-10.0],[3.6,-9.83],[3.85,-9.57],[4.1,-9.76],[4.35,-9.51],[4.6,-8.88],[4.85,-8.94],[5.1,-9.51],[5.4,-9.51],[5.65,-10.15],[5.75,-10.9],[5.85,-11.55],[6.05,-11.3],[6.3,-10.85],[6.55,-10.66],[6.75,-10.3],[6.95,-10.02],[7.15,-10.05],[7.35,-10.09],[7.6,-9.95],[7.85,-9.83],[8.1,-9.7],[8.35,-9.57],[8.55,-9.6],[8.7,-9.64],[8.8,-9.0],[8.87,-8.4],[8.95,-8.6],[9.1,-9.26],[9.35,-9.26],[9.55,-9.7],[9.7,-10.02],[9.85,-9.75],[10.0,-9.51],[10.25,-9.19],[10.5,-9.38],[10.7,-9.6],[10.85,-9.76],[11.05,-9.65],[11.2,-9.57],[11.4,-9.68],[11.6,-9.76],[11.8,-9.6],[11.95,-9.51],[12.2,-9.07],[12.45,-8.68],[12.7,-9.26],[12.95,-9.38],[13.15,-9.15],[13.35,-9.0],[13.6,-8.75],[13.8,-8.6],[13.97,-8.43],[14.15,-8.3],[14.35,-8.11],[14.5,-7.95],[14.7,-7.73],[14.95,-7.35],[15.1,-7.5],[15.25,-7.67],[15.4,-8.1],[15.5,-8.43],[15.65,-9.38],[15.85,-9.7],[16.0,-10.0],[16.1,-10.15],[16.25,-10.2],[16.35,-9.9],[16.5,-9.6],[16.7,-9.38],[16.9,-9.3],[17.1,-9.26],[17.3,-9.2],[17.45,-9.13],[17.65,-8.95],[17.85,-8.81],[18.1,-8.75],[18.35,-8.68],[18.6,-8.82],[18.85,-8.94],[19.1,-9.06],[19.35,-9.19],[19.55,-9.05],[19.75,-8.94],[19.9,-8.9],[20.1,-8.81],[20.3,-8.75],[20.5,-8.68],[20.65,-8.55],[20.85,-8.42],[21.05,-8.4],[21.25,-8.36],[21.45,-8.3],[21.6,-8.23],[21.8,-8.1],[22.0,-7.97],[22.2,-8.0],[22.35,-8.04],[22.55,-8.08],[22.75,-8.1],[22.95,-8.15],[23.1,-8.23],[23.3,-8.1],[23.5,-7.97],[23.7,-7.95],[23.85,-7.91],[24.05,-8.0],[24.2,-8.1],[24.4,-8.15],[24.6,-8.23],[24.8,-8.1],[24.95,-7.97],[25.15,-8.0],[25.35,-8.04],[25.5,-8.0],[25.7,-7.97],[25.9,-8.1],[26.1,-8.23],[26.3,-8.05],[26.45,-7.91],[26.65,-7.95],[26.85,-7.97],[27.0,-7.85],[27.2,-7.78],[27.4,-7.75],[27.6,-7.72],[27.8,-7.76],[27.95,-7.78],[28.15,-7.7],[28.35,-7.65],[28.55,-7.7],[28.7,-7.72],[28.9,-7.6],[29.1,-7.53],[29.3,-7.6],[29.5,-7.65],[29.7,-7.58],[29.85,-7.53],[30.05,-7.45],[30.25,-7.4],[30.45,-7.36],[30.6,-7.33],[30.8,-7.4],[31.0,-7.46],[31.2,-7.35],[31.4,-7.27],[31.6,-7.35],[31.75,-7.4],[31.95,-7.36],[32.1,-7.33],[32.3,-7.38],[32.5,-7.4],[32.7,-7.32],[32.85,-7.27],[33.05,-7.3],[33.25,-7.33],[33.45,-7.25],[33.6,-7.21],[33.8,-7.22],[34.0,-7.21],[34.2,-7.15],[34.35,-7.08],[34.55,-6.98],[34.75,-6.88],[34.9,-6.95],[35.1,-7.01],[35.3,-7.08],[35.5,-7.14],[35.7,-7.18],[35.85,-7.21],[36.05,-7.15],[36.25,-7.08],[36.45,-7.1],[36.6,-7.14],[36.8,-7.18],[37.05,-7.21]];

const tRed = [[0,-10.15],[0.4,-10.28],[0.8,-10.38],[1.2,-10.48],[1.6,-10.55],[2.0,-10.62],[2.3,-10.6],[2.5,-10.45],[2.6,-9.8],[2.75,-9.6],[2.9,-9.7],[3.05,-9.62],[3.2,-9.8],[3.4,-9.9],[3.6,-9.7],[3.8,-9.6],[4.0,-9.45],[4.2,-9.1],[4.4,-8.8],[4.6,-8.62],[4.75,-8.7],[4.9,-8.95],[5.1,-9.4],[5.3,-9.6],[5.5,-9.5],[5.7,-9.75],[5.9,-10.4],[6.1,-10.85],[6.3,-10.7],[6.5,-10.3],[6.7,-10.15],[6.9,-10.2],[7.1,-10.1],[7.3,-10.05],[7.5,-9.95],[7.7,-9.9],[7.9,-9.85],[8.1,-9.8],[8.3,-9.6],[8.5,-9.7],[8.7,-9.55],[8.9,-9.4],[9.1,-9.5],[9.3,-9.6],[9.5,-9.45],[9.7,-9.3],[9.9,-9.15],[10.1,-9.0],[10.25,-8.95],[10.4,-9.1],[10.6,-9.3],[10.8,-9.45],[11.0,-9.5],[11.2,-9.4],[11.4,-9.35],[11.6,-9.45],[11.8,-9.3],[12.0,-9.2],[12.2,-9.0],[12.4,-8.75],[12.6,-8.9],[12.8,-9.0],[13.0,-8.7],[13.2,-8.45],[13.4,-8.35],[13.6,-8.2],[13.8,-8.3],[14.0,-8.1],[14.2,-7.95],[14.4,-7.7],[14.6,-7.45],[14.8,-7.35],[15.0,-7.45],[15.2,-7.6],[15.4,-7.7],[15.6,-7.85],[15.8,-7.75],[16.0,-7.6],[16.2,-7.75],[16.4,-7.9],[16.6,-8.0],[16.8,-7.95],[17.0,-8.2],[17.2,-8.35],[17.4,-8.2],[17.6,-7.9],[17.8,-7.6],[18.0,-7.4],[18.2,-7.3],[18.4,-7.2],[18.6,-7.05],[18.8,-6.9],[19.0,-6.75],[19.2,-6.6],[19.4,-6.7],[19.6,-6.9],[19.8,-7.05],[20.0,-7.2],[20.2,-7.1],[20.4,-7.25],[20.6,-7.35],[20.8,-7.2],[21.0,-7.4],[21.2,-7.3],[21.4,-7.55],[21.6,-7.75],[21.8,-7.9],[22.0,-8.0],[22.3,-8.1],[22.6,-8.05],[22.9,-8.15],[23.2,-8.2],[23.5,-8.05],[23.8,-8.0],[24.1,-8.12],[24.4,-8.2],[24.7,-8.15],[25.0,-8.05],[25.3,-8.1],[25.6,-8.0],[25.9,-8.12],[26.2,-8.08],[26.5,-7.98],[26.8,-7.92],[27.1,-7.85],[27.4,-7.8],[27.7,-7.78],[28.0,-7.75],[28.3,-7.7],[28.6,-7.72],[28.9,-7.65],[29.2,-7.58],[29.5,-7.6],[29.8,-7.55],[30.1,-7.48],[30.4,-7.42],[30.7,-7.38],[31.0,-7.42],[31.3,-7.35],[31.6,-7.38],[31.9,-7.32],[32.2,-7.36],[32.5,-7.3],[32.8,-7.28],[33.1,-7.3],[33.4,-7.25],[33.7,-7.2],[34.0,-7.18],[34.3,-7.12],[34.6,-7.05],[34.9,-7.0],[35.2,-7.05],[35.5,-7.1],[35.8,-7.05],[36.1,-7.08],[36.4,-7.02],[36.7,-7.05],[37.0,-7.0]];

// ---------- helpers ----------
const minusFmt = (v: number) => String(v).replace("-", "\u2212");

function axisPair(dim: "x" | "y", gridIndex: number, min: number, max: number, interval: number | undefined, custom: number[] | undefined, fontSize: number, margin: number, name: string, nameGap: number, nameSize: number) {
  const base: any = {
    gridIndex, type: "value", min, max,
    splitLine: { show: false },
    axisLine: { show: true, onZero: false, lineStyle: { color: INK, width: 1 } },
  };
  if (interval !== undefined) base.interval = interval;
  const tick: any = { show: true, inside: true, length: 6, lineStyle: { color: INK, width: 1 } };
  if (custom) tick.customValues = custom;
  const label: any = { show: true, color: INK, fontSize, fontFamily: FONT, margin, formatter: minusFmt };
  if (custom) label.customValues = custom;
  const main = {
    ...base,
    position: dim === "x" ? "bottom" : "left",
    axisTick: tick,
    axisLabel: label,
    name,
    nameLocation: "middle",
    nameGap,
    nameRotate: dim === "y" ? 90 : 0,
    nameTextStyle: { color: INK, fontSize: nameSize, fontFamily: FONT },
  };
  const mirror = {
    ...base,
    position: dim === "x" ? "top" : "right",
    axisTick: tick,
    axisLabel: { show: false },
  };
  return [main, mirror];
}

function lineSeries(data: number[][], color: string, axisIndex: number, smooth: number | boolean, width = 1.2) {
  return {
    type: "line",
    data,
    xAxisIndex: axisIndex,
    yAxisIndex: axisIndex,
    symbol: "none",
    smooth,
    clip: true,
    silent: true,
    lineStyle: { color, width },
    itemStyle: { color },
  };
}

export default function App() {
  const ref = useRef<HTMLDivElement>(null);

  useEffect(() => {
    if (!ref.current) return;
    const chart = echarts.init(ref.current, undefined, { renderer: "svg", width: W, height: H });

    const xAxis = [
      ...axisPair("x", 0, -20, 160, undefined, trackXTicks, 23, 8, "x (km)", 30, 24),
      ...axisPair("x", 1, 0, 40, 5, undefined, 18, 6, "time (days)", 24, 19),
      ...axisPair("x", 2, 0, 40, 5, undefined, 18, 6, "time (days)", 20, 19),
    ];
    const yAxis = [
      ...axisPair("y", 0, -80, 100, 20, undefined, 23, 7, "y (km)", 50, 24),
      ...axisPair("y", 1, -0.5, 4.5, 0.5, undefined, 18, 5, "b (10\u207B\u2074 m/s\u00B2)", 45, 19),
      ...axisPair("y", 2, -13, -5, 1, undefined, 18, 5, "\u03C4 (10\u207B\u2074 m/s\u00B2)", 37, 19),
    ];

    const option: any = {
      animation: false,
      backgroundColor: "#ffffff",
      textStyle: { fontFamily: FONT },
      grid: [
        { left: 359, top: 52, width: 540, height: 540, show: false },
        { left: 77, top: 697, width: 530, height: 416, show: false },
        { left: 702, top: 693, width: 533, height: 420, show: false },
      ],
      xAxis,
      yAxis,
      graphic: [
        { type: "text", x: 627, y: 22, style: { text: "Float tracks", font: `25px ${FONT}`, fill: INK, textAlign: "center", textVerticalAlign: "middle" } },
        { type: "text", x: 341, y: 675, style: { text: "Buoyancy time\u2212series", font: `19px ${FONT}`, fill: INK, textAlign: "center", textVerticalAlign: "middle" } },
        { type: "text", x: 967, y: 667, style: { text: "\u03C4 time\u2212series", font: `19px ${FONT}`, fill: INK, textAlign: "center", textVerticalAlign: "middle" } },
      ],
      series: [
        lineSeries(trackPink, C_PINK, 0, 0.3),
        lineSeries(trackOrange, C_ORANGE, 0, 0.3),
        lineSeries(trackGreen, C_GREEN, 0, 0.45),
        lineSeries(trackBlue, C_BLUE, 0, 0.35),
        lineSeries(trackRed, C_RED, 0, 0.45),
        {
          type: "scatter",
          data: trackStarts,
          xAxisIndex: 0,
          yAxisIndex: 0,
          symbol: "path://M4.4,0H5.6V4.4H10V5.6H5.6V10H4.4V5.6H0V4.4H4.4Z",
          symbolSize: 11,
          silent: true,
          itemStyle: { color: "#111" },
          z: 5,
        },
        lineSeries(bBlue, C_BLUE, 2, false),
        lineSeries(bGreen, C_GREEN, 2, false),
        lineSeries(bPink, C_PINK, 2, false),
        lineSeries(bOrange, C_ORANGE, 2, false),
        lineSeries(bRed, C_RED, 2, false),
        lineSeries(tRed, C_RED, 4, false),
        lineSeries(tGreen, C_GREEN, 4, false),
        lineSeries(tPink, C_PINK, 4, false),
        lineSeries(tOrange, C_ORANGE, 4, false),
        lineSeries(tBlue, C_BLUE, 4, false),
      ],
    };

    chart.setOption(option);
    return () => chart.dispose();
  }, []);

  return (
    <div
      ref={ref}
      style={{ position: "fixed", left: 0, top: 0, width: W, height: H, background: "#ffffff" }}
    />
  );
}
